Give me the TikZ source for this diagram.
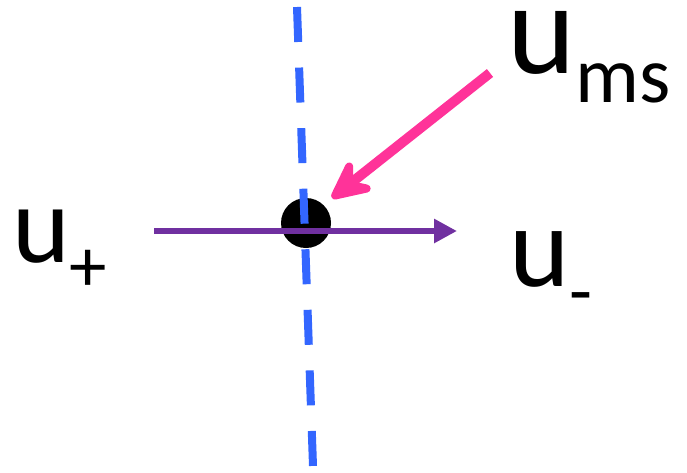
\documentclass[tikz,border=0pt]{standalone}
\usepackage{fontspec}
\setmainfont{Carlito}
\usetikzlibrary{arrows.meta}

\definecolor{dashblue}{RGB}{51,102,255}
\definecolor{flowpurple}{RGB}{112,48,160}
\definecolor{mspink}{RGB}{255,51,153}

\begin{document}
\begin{tikzpicture}[x=1pt,y=-1pt,
	lbl/.style={inner sep=0pt,anchor=base west}]
	\useasboundingbox (0,0) rectangle (687,472);
	
	% 分界点（黑色圆点）
	\fill[black] (306,223) circle (25pt);
	\coordinate (pt) at (306,223);
	
	% 蓝色虚线
	\coordinate (top) at (297,7);
	\coordinate (bot) at (313,466);
	\draw[dashblue, line width=8pt, dash pattern=on 35pt off 25.6pt] (top) -- (bot);
	
	% 紫色箭头：从 u_+ 指向 u_-
	\coordinate (left) at (154,231);
	\coordinate (right) at (457,231);
	\draw[flowpurple, line width=6.5pt, -{Triangle[length=23pt,width=23pt]}] (left) -- (right);
	
	% 粉色箭头：u_ms 指向圆点
	\coordinate (msstart) at (490,73);
	\coordinate (mstip) at (332,198);
	\draw[mspink, line width=10pt, -{Stealth[round,length=52pt,width=50pt,inset=20pt]}] (msstart) -- (mstip);
	
	% 标签
	\node[lbl, text height=62pt] (ums) at (507,73) {\fontsize{130}{130}\selectfont u\raisebox{-29pt}{\fontsize{80}{80}\selectfont ms}};
	\node[lbl] (uplus) at (12,262) {\fontsize{110}{110}\selectfont u\raisebox{-29pt}{\fontsize{75}{75}\selectfont +}};
	\node[lbl] (uminus) at (509,286) {\fontsize{115}{115}\selectfont u\raisebox{-30pt}{\fontsize{75}{75}\selectfont -}};
\end{tikzpicture}
\end{document}
